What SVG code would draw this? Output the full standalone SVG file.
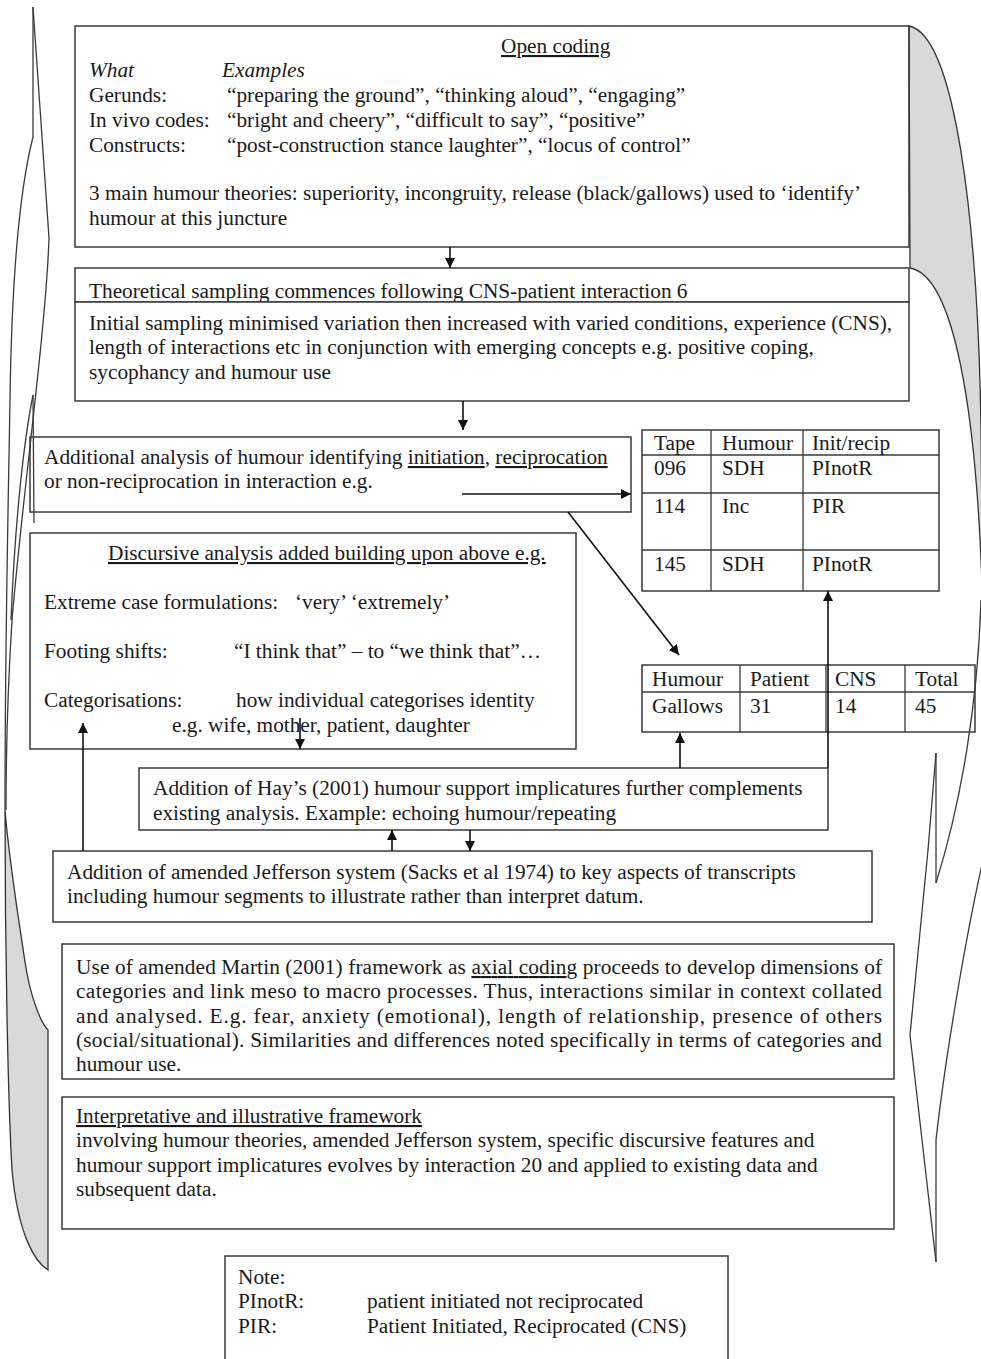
<svg xmlns="http://www.w3.org/2000/svg" width="981" height="1359" viewBox="0 0 981 1359">
<style>
text{font-family:"Liberation Serif","Times New Roman",serif;font-size:21.3px;fill:#1a1a1a}
.it{font-style:italic}
.u{text-decoration:underline}
.box{fill:none;stroke:#3a3a3a;stroke-width:1.5}
.wbox{fill:#fff;stroke:#3a3a3a;stroke-width:1.5}
.ln{fill:none;stroke:#3a3a3a;stroke-width:1.3}
.gray{fill:#d9d9d9;stroke:#333;stroke-width:1.3}
.arr{fill:none;stroke:#111;stroke-width:1.6;marker-end:url(#ah)}
</style>
<defs>
<marker id="ah" markerUnits="userSpaceOnUse" markerWidth="10" markerHeight="10" refX="10" refY="5" orient="auto">
<path d="M0,0 L10,5 L0,10 Z" fill="#111"/>
</marker>
</defs>
<rect width="981" height="1359" fill="#fff"/>

<g id="braces">
<path class="ln" d="M33,7 L33,137 C22,180 12,260 10,400 C8,520 5,640 5,810"/>
<path class="ln" d="M33,7 L49,238 C46,330 22,500 12,620 C7,700 6,760 6,810"/>
<path class="ln" d="M33,395 L34,523"/>
<path class="ln" d="M33,395 C24,440 15,520 11,620"/>
<path class="gray" d="M5,810 C5,950 8,1100 12,1170 C18,1235 35,1262 48,1270 L48,1030 C40,1022 30,995 25,962 C18,915 9,860 5,810 Z"/>
<path class="gray" d="M909,26 C955,35 978,220 981,430 L983,620 C978,400 952,275 910,268 Z"/>
<path class="ln" d="M981,600 C978,700 962,800 936,883"/>
<path class="ln" d="M936,753 L936,883"/>
<path class="ln" d="M936,753 L928,850 L910,1035 L936,1262"/>
<path class="ln" d="M983,860 C965,940 945,1060 936,1140 L936,1262"/>
</g>

<g id="open-coding">
<rect class="box" x="75" y="26" width="834" height="221"/>
<text x="501" y="53" class="u">Open coding</text>
<text x="89" y="77" class="it">What</text>
<text x="222" y="77" class="it">Examples</text>
<text x="89" y="102">Gerunds:</text>
<text x="227" y="102">“preparing the ground”, “thinking aloud”, “engaging”</text>
<text x="89" y="127">In vivo codes:</text>
<text x="227" y="127">“bright and cheery”, “difficult to say”, “positive”</text>
<text x="89" y="152">Constructs:</text>
<text x="227" y="152">“post-construction stance laughter”, “locus of control”</text>
<text x="89" y="200">3 main humour theories: superiority, incongruity, release (black/gallows) used to ‘identify’</text>
<text x="89" y="225">humour at this juncture</text>
</g>

<g id="theoretical-sampling">
<rect class="box" x="75" y="268" width="834" height="34"/>
<text x="89" y="298">Theoretical sampling commences following CNS-patient interaction 6</text>
</g>

<g id="initial-sampling">
<rect class="wbox" x="75" y="302" width="834" height="99"/>
<text x="89" y="330">Initial sampling minimised variation then increased with varied conditions, experience (CNS),</text>
<text x="89" y="354">length of interactions etc in conjunction with emerging concepts e.g. positive coping,</text>
<text x="89" y="379">sycophancy and humour use</text>
</g>

<g id="additional-analysis">
<rect class="box" x="30" y="437" width="601" height="75"/>
<text x="44" y="464">Additional analysis of humour identifying  <tspan class="u">initiation</tspan>, <tspan class="u">reciprocation</tspan></text>
<text x="44" y="488">or non-reciprocation in interaction e.g.</text>
</g>

<g id="table-tape">
<rect class="box" x="642" y="430" width="297" height="161"/>
<path class="ln" d="M642,455 H939 M642,493 H939 M642,550 H939 M711,430 V591 M803,430 V591"/>
<text x="654" y="450">Tape</text>
<text x="722" y="450">Humour</text>
<text x="812" y="450">Init/recip</text>
<text x="654" y="475">096</text>
<text x="722" y="475">SDH</text>
<text x="812" y="475">PInotR</text>
<text x="654" y="513">114</text>
<text x="722" y="513">Inc</text>
<text x="812" y="513">PIR</text>
<text x="654" y="571">145</text>
<text x="722" y="571">SDH</text>
<text x="812" y="571">PInotR</text>
</g>

<g id="table-gallows">
<rect class="box" x="642" y="665" width="333" height="67"/>
<path class="ln" d="M642,692 H975 M740,665 V732 M826,665 V732 M905,665 V732"/>
<text x="652" y="686">Humour</text>
<text x="750" y="686">Patient</text>
<text x="835" y="686">CNS</text>
<text x="915" y="686">Total</text>
<text x="652" y="713">Gallows</text>
<text x="750" y="713">31</text>
<text x="835" y="713">14</text>
<text x="915" y="713">45</text>
</g>

<g id="discursive">
<rect class="box" x="30" y="533" width="546" height="216"/>
<text x="108" y="560" class="u">Discursive analysis added building upon above e.g.</text>
<text x="44" y="609">Extreme case formulations:</text>
<text x="295" y="609">‘very’ ‘extremely’</text>
<text x="44" y="658">Footing shifts:</text>
<text x="234" y="658">“I think that” – to “we think that”…</text>
<text x="44" y="707">Categorisations:</text>
<text x="236" y="707">how  individual categorises identity</text>
<text x="172" y="732">e.g. wife, mother, patient, daughter</text>
</g>

<g id="hay">
<rect class="box" x="139" y="768" width="689" height="62"/>
<text x="153" y="795">Addition of Hay’s (2001) humour support implicatures further complements</text>
<text x="153" y="820">existing analysis. Example: echoing humour/repeating</text>
</g>

<g id="jefferson">
<rect class="box" x="53" y="851" width="819" height="71"/>
<text x="67" y="879">Addition of amended Jefferson system (Sacks et al 1974) to key aspects of transcripts</text>
<text x="67" y="903">including humour segments to illustrate rather than interpret datum.</text>
</g>

<g id="martin">
<rect class="box" x="62" y="944" width="832" height="135"/>
<text x="76" y="974" textLength="806" lengthAdjust="spacing">Use of amended Martin (2001) framework as <tspan class="u">axial coding</tspan> proceeds to develop dimensions of</text>
<text x="76" y="998" textLength="806" lengthAdjust="spacing">categories and link meso to macro processes.  Thus, interactions similar in context collated</text>
<text x="76" y="1023" textLength="806" lengthAdjust="spacing">and analysed. E.g.  fear, anxiety (emotional), length of relationship, presence of others</text>
<text x="76" y="1047" textLength="806" lengthAdjust="spacing">(social/situational).  Similarities and differences noted specifically in terms of categories and</text>
<text x="76" y="1071">humour use.</text>
</g>

<g id="interpretative">
<rect class="box" x="62" y="1097" width="832" height="132"/>
<text x="76" y="1123" class="u">Interpretative and illustrative framework</text>
<text x="76" y="1147">involving humour theories, amended Jefferson system, specific discursive features and</text>
<text x="76" y="1172">humour support implicatures evolves by interaction 20 and applied to existing data and</text>
<text x="76" y="1196">subsequent data.</text>
</g>

<g id="note">
<rect class="box" x="225" y="1256" width="503" height="112"/>
<text x="238" y="1284">Note:</text>
<text x="238" y="1308">PInotR:</text>
<text x="367" y="1308">patient initiated not reciprocated</text>
<text x="238" y="1333">PIR:</text>
<text x="367" y="1333">Patient Initiated, Reciprocated (CNS)</text>
</g>

<g id="connectors">
<line class="arr" x1="450" y1="247" x2="450" y2="268"/>
<line class="arr" x1="463" y1="401" x2="463" y2="430"/>
<line class="arr" x1="462" y1="494" x2="631" y2="494"/>
<line class="arr" x1="568" y1="512" x2="679" y2="655"/>
<line class="arr" x1="828" y1="768" x2="828" y2="591"/>
<line class="arr" x1="680" y1="768" x2="680" y2="733"/>
<line class="arr" x1="300" y1="718" x2="300" y2="749"/>
<line class="arr" x1="83" y1="851" x2="83" y2="723"/>
<line class="arr" x1="392" y1="851" x2="392" y2="830"/>
<line class="arr" x1="470" y1="830" x2="470" y2="851"/>
</g>
</svg>
